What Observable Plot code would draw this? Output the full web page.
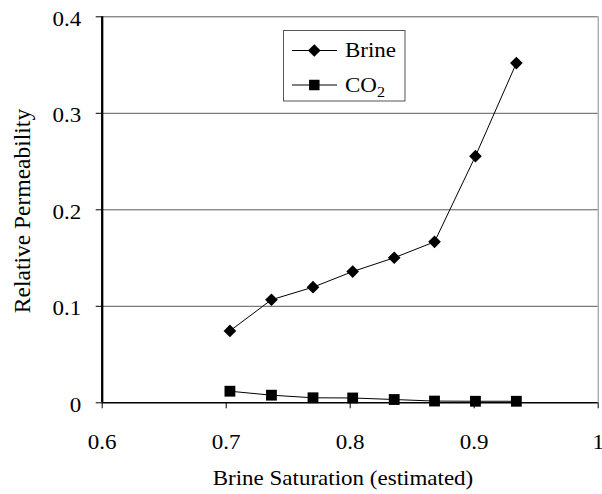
<!DOCTYPE html>
<html>
<head>
<meta charset="utf-8">
<script src="https://cdn.jsdelivr.net/npm/d3@7"></script>
<script src="https://cdn.jsdelivr.net/npm/@observablehq/plot@0.6"></script>
<style>
  html, body { margin: 0; padding: 0; background: #fff; }
  #chart { width: 602px; height: 494px; }
  #chart svg text { font-family: "Liberation Serif", "Times New Roman", serif; }
</style>
</head>
<body>
<div id="chart"></div>
<script>
// Data
const saturation = [0.703, 0.7365, 0.770, 0.802, 0.8355, 0.868, 0.901, 0.934];
const brineKr = [0.0745, 0.1068, 0.1198, 0.1360, 0.1503, 0.1668, 0.2556, 0.3520];
const co2Kr = [0.0120, 0.0079, 0.0052, 0.0050, 0.0034, 0.0018, 0.0016, 0.0016];
const xTicks = [0.6, 0.7, 0.8, 0.9, 1];
const yTicks = [0, 0.1, 0.2, 0.3, 0.4];
const gridValues = [0.1, 0.2, 0.3, 0.4];
const seriesNames = ["Brine", "CO2"];
const xLabel = "Brine Saturation (estimated)";
const yLabel = "Relative Permeability";

const brine = saturation.map((s, i) => ({x: s, y: brineKr[i]}));
const co2 = saturation.map((s, i) => ({x: s, y: co2Kr[i]}));

const W = 602, H = 494;
const mLeft = 101.7, mRight = 4.3, mTop = 16.3, mBottom = 91.7;
const font = "'Liberation Serif', 'Times New Roman', serif";
const STRETCH = 1.15;

const chart = Plot.plot({
  width: W,
  height: H,
  marginLeft: mLeft,
  marginRight: mRight,
  marginTop: mTop,
  marginBottom: mBottom,
  style: {fontFamily: font, fontSize: "20px", color: "#000", background: "#fff", overflow: "visible"},
  x: {domain: [0.6, 1]},
  y: {domain: [0, 0.4]},
  marks: [
    Plot.ruleY(gridValues, {stroke: "#5a5a5a", strokeWidth: 1}),
    Plot.ruleX([1], {stroke: "#8a8a8a", strokeWidth: 1}),
    Plot.axisX({ticks: xTicks, tickFormat: d => String(d), tickSize: 6, tickPadding: 26, label: null, stroke: "#000"}),
    Plot.axisY({ticks: yTicks, tickFormat: d => String(d), tickSize: 6, tickPadding: 15, label: null, stroke: "#000"}),
    Plot.ruleY([0], {stroke: "#000", strokeWidth: 1.5}),
    Plot.ruleX([0.6], {stroke: "#000", strokeWidth: 2.3}),
    Plot.line(brine, {x: "x", y: "y", stroke: "#000", strokeWidth: 1}),
    Plot.line(co2, {x: "x", y: "y", stroke: "#000", strokeWidth: 1}),
    Plot.dot(brine, {x: "x", y: "y", symbol: "diamond2", r: 5.7, fill: "#000", stroke: "none"}),
    Plot.dot(co2, {x: "x", y: "y", symbol: "square", r: 6.1, fill: "#000", stroke: "none"})
  ]
});

document.getElementById("chart").appendChild(chart);

const svg = d3.select(chart);

// horizontal stretch of text about its anchor point (reference text is wide)
function stretch(el, sx, ty) {
  const x = +el.getAttribute("x") || 0;
  const y = +el.getAttribute("y") || 0;
  const t = el.getAttribute("transform") || "";
  el.setAttribute("transform", `${t} translate(${x},${y + (ty || 0)}) scale(${sx},1) translate(${-x},${-y})`);
}
svg.selectAll('g[aria-label="x-axis tick label"] text').each(function() { stretch(this, STRETCH, 0); });
svg.selectAll('g[aria-label="y-axis tick label"] text').each(function() { stretch(this, STRETCH, 2.3); });

// Axis titles
const xt = svg.append("text")
  .attr("x", 343).attr("y", 485.5)
  .attr("text-anchor", "middle")
  .style("font-family", font).style("font-size", "20px").attr("fill", "#000")
  .text(xLabel);
stretch(xt.node(), STRETCH, 0);

svg.append("text")
  .attr("transform", "translate(29.8,211) rotate(-90)")
  .attr("text-anchor", "middle")
  .style("font-family", font).style("font-size", "23.5px").attr("fill", "#000")
  .text(yLabel);

// Legend
const lg = svg.append("g");
lg.append("rect")
  .attr("x", 283.5).attr("y", 30.5).attr("width", 121.5).attr("height", 70.5)
  .attr("fill", "#fff").attr("stroke", "#555").attr("stroke-width", 1);

const rows = [
  {name: seriesNames[0], y: 50.5, sym: d3.symbolDiamond2, size: 103},
  {name: seriesNames[1], y: 85, sym: d3.symbolSquare, size: 110}
];
rows.forEach(r => {
  lg.append("line").attr("x1", 292).attr("x2", 337).attr("y1", r.y).attr("y2", r.y)
    .attr("stroke", "#000").attr("stroke-width", 1);
  lg.append("path").attr("d", d3.symbol(r.sym, r.size)())
    .attr("transform", `translate(314.3,${r.y})`).attr("fill", "#000");
  const t = lg.append("text").attr("x", 345).attr("y", r.y + 6.8)
    .attr("text-anchor", "start")
    .style("font-family", font).style("font-size", "20px").attr("fill", "#000");
  if (r.name === "CO2") {
    t.append("tspan").text("CO");
    t.append("tspan").attr("dy", 5).style("font-size", "14px").text("2");
  } else {
    t.text(r.name);
  }
  stretch(t.node(), STRETCH, 0);
});
</script>
</body>
</html>
